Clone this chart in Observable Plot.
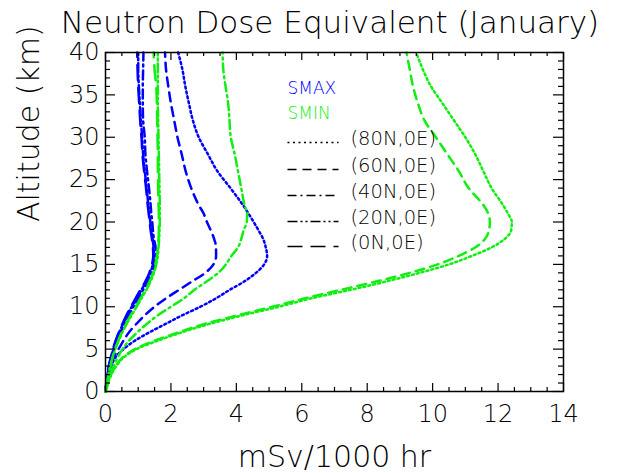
<!DOCTYPE html>
<html>
<head>
<meta charset="utf-8">
<script src="https://cdn.jsdelivr.net/npm/d3@7"></script>
<script src="https://cdn.jsdelivr.net/npm/@observablehq/plot@0.6"></script>
<style>
  html, body { margin: 0; padding: 0; background: #fff; }
  #wrap { position: relative; width: 624px; height: 473px; font-family: "DejaVu Sans", sans-serif; }
  #title { position: absolute; z-index: 2; left: 0; top: 0; width: 660px; height: 42px; line-height: 44px; text-align: center; font-size: 31px; font-weight: 200; color: #000; }
  #chart { position: absolute; z-index: 1; left: 0; top: 20px; }
</style>
</head>
<body>
<div id="wrap">
  <div id="title">Neutron Dose Equivalent (January)</div>
  <div id="chart"></div>
</div>
<script>
// ---------- data ----------
const altitudes = [0,1,2,3,4,5,6,7,8,9,10,11,12,13,14,15,16,17,18,19,20,21,22,24,26,28,30,32,34,36,38,40];

const smax80N = [0,0.04,0.1,0.18,0.3,0.55,0.9,1.35,1.85,2.35,2.9,3.38,3.8,4.25,4.6,4.85,4.94,4.9,4.82,4.68,4.53,4.37,4.2,3.82,3.42,3.13,2.85,2.67,2.55,2.44,2.35,2.22];
const smax60N = [0,0.03,0.08,0.15,0.25,0.4,0.55,0.72,0.95,1.2,1.5,1.85,2.25,2.65,3.05,3.3,3.38,3.38,3.32,3.22,3.1,3.0,2.85,2.62,2.45,2.33,2.2,2.1,2.0,1.92,1.85,1.82];
const smax40N = [0,0.03,0.07,0.12,0.19,0.27,0.36,0.47,0.6,0.72,0.85,1.0,1.15,1.3,1.42,1.5,1.53,1.53,1.48,1.45,1.43,1.4,1.38,1.33,1.27,1.22,1.2,1.15,1.14,1.14,1.15,1.16];
const smax20N = [0,0.03,0.06,0.11,0.17,0.24,0.32,0.42,0.54,0.66,0.8,0.95,1.1,1.25,1.37,1.45,1.48,1.47,1.44,1.4,1.37,1.34,1.31,1.26,1.2,1.15,1.12,1.08,1.05,1.02,1.0,1.0];
const smax0N  = [0,0.03,0.06,0.1,0.16,0.23,0.31,0.41,0.52,0.64,0.78,0.92,1.07,1.22,1.34,1.42,1.46,1.45,1.42,1.38,1.35,1.32,1.29,1.24,1.18,1.13,1.1,1.06,1.03,1.0,0.98,0.97];

const smin80N = [0,0.08,0.18,0.33,0.55,0.95,1.6,2.35,3.2,4.2,5.3,6.3,7.5,8.6,9.6,10.5,11.2,11.8,12.2,12.4,12.42,12.3,12.15,11.8,11.55,11.3,11.0,10.65,10.3,9.95,9.7,9.5];
const smin60N = [0,0.08,0.17,0.31,0.52,0.9,1.5,2.25,3.05,4.05,5.1,6.1,7.2,8.3,9.3,10.15,10.8,11.3,11.6,11.72,11.75,11.7,11.55,11.1,10.8,10.45,10.1,9.75,9.55,9.4,9.3,9.2];
const smin40N = [0,0.06,0.14,0.25,0.37,0.52,0.72,0.98,1.27,1.6,2.0,2.4,2.72,3.1,3.45,3.68,3.85,4.05,4.15,4.22,4.32,4.33,4.25,4.15,4.05,3.95,3.83,3.79,3.75,3.67,3.6,3.58];
const smin20N = [0,0.04,0.09,0.15,0.22,0.3,0.4,0.52,0.65,0.8,0.95,1.1,1.25,1.38,1.48,1.55,1.6,1.62,1.64,1.65,1.66,1.66,1.66,1.65,1.64,1.63,1.62,1.61,1.6,1.6,1.6,1.6];
const smin0N  = [0,0.04,0.09,0.15,0.21,0.29,0.39,0.5,0.63,0.77,0.92,1.07,1.22,1.35,1.45,1.52,1.57,1.6,1.62,1.63,1.63,1.63,1.62,1.61,1.6,1.6,1.59,1.58,1.57,1.55,1.5,1.47];

const locations = ["(80N,0E)", "(60N,0E)", "(40N,0E)", "(20N,0E)", "(0N,0E)"];
const solarLabels = ["SMAX", "SMIN"];
const xTicks = [0, 2, 4, 6, 8, 10, 12, 14];
const yTicks = [0, 5, 10, 15, 20, 25, 30, 35, 40];

// ---------- styles / layout ----------
const TOP = 20;                       // svg offset on the page
const W = 624, H = 453, ML = 105, MR = 61, MT = 32, MB = 82;
const XMAX = 14, YMAX = 40;
const BLUE = "#0000ff", GREEN = "#11ee11";
const dashes = ["2,3", "9,6", "9,4,2,4", "9,3,2,3,2,3", "15,8"];
const legendDashes = ["2,3.5", "9,6", "9,4,2,4", "10,3,2,3,2,3", "15,8"];

const fw = W - ML - MR, fh = H - MT - MB;
const pxX = px => (px - ML) / fw * XMAX;                 // page px -> data x
const pxY = py => (MT + fh - (py - TOP)) / fh * YMAX;    // page px -> data y
const lenX = px => px / fw * XMAX;
const lenY = px => px / fh * YMAX;

const seriesSMAX = [smax80N, smax60N, smax40N, smax20N, smax0N];
const seriesSMIN = [smin80N, smin60N, smin40N, smin20N, smin0N];

const lineMarks = [];
[[seriesSMAX, BLUE], [seriesSMIN, GREEN]].forEach(([group, color]) => {
  group.forEach((vals, i) => {
    const rows = altitudes.map((a, j) => ({alt: a, dose: vals[j]}));
    lineMarks.push(Plot.line(rows, {x: "dose", y: "alt", stroke: color, strokeWidth: 2.5,
      strokeDasharray: dashes[i], curve: "monotone-y"}));
  });
});

// ticks
const minorX = d3.range(0, XMAX + 0.001, 0.5);
const minorY = d3.range(0, YMAX + 0.001, 1);
const tMajX = lenY(8), tMinX = lenY(4);
const tMajY = lenX(10), tMinY = lenX(5);
const tickMarks = [
  Plot.ruleX(minorX, {x: d => d, y1: 0, y2: d => d % 2 === 0 ? tMajX : tMinX, stroke: "black", strokeWidth: 1.2}),
  Plot.ruleX(minorX, {x: d => d, y1: YMAX, y2: d => YMAX - (d % 2 === 0 ? tMajX : tMinX), stroke: "black", strokeWidth: 1.2}),
  Plot.ruleY(minorY, {y: d => d, x1: 0, x2: d => d % 5 === 0 ? tMajY : tMinY, stroke: "black", strokeWidth: 1.2}),
  Plot.ruleY(minorY, {y: d => d, x1: XMAX, x2: d => XMAX - (d % 5 === 0 ? tMajY : tMinY), stroke: "black", strokeWidth: 1.2})
];

// legend (layout in page pixels)
const legX0 = 287, legX1 = 338, legTextX = 350;
const rowY = [138, 165, 191, 217, 242];
const legendMarks = [
  Plot.text(solarLabels, {x: pxX(legX0), y: (d, i) => pxY([88, 113][i]), text: d => d,
    textAnchor: "start", fill: (d, i) => [BLUE, GREEN][i], fontSize: 17, fontWeight: 200}),
  Plot.text(locations, {x: pxX(legTextX), y: (d, i) => pxY(rowY[i]), text: d => d,
    textAnchor: "start", fill: "black", fontSize: 19.5, fontWeight: 200}),
  ...locations.map((d, i) => Plot.link([d], {x1: pxX(legX0), x2: pxX(legX1), y1: pxY(rowY[i] + 4), y2: pxY(rowY[i] + 4),
    stroke: "black", strokeWidth: 1.3, strokeDasharray: legendDashes[i]}))
];

const chart = Plot.plot({
  width: W, height: H,
  marginLeft: ML, marginRight: MR, marginTop: MT, marginBottom: MB,
  style: {fontFamily: "'DejaVu Sans', sans-serif", background: "transparent", color: "black"},
  x: {domain: [0, XMAX], axis: null},
  y: {domain: [0, YMAX], axis: null},
  marks: [
    ...lineMarks,
    ...tickMarks,
    Plot.frame({stroke: "black", strokeWidth: 1.5}),
    Plot.axisX({anchor: "bottom", ticks: xTicks, tickSize: 0, tickPadding: 13, fontSize: 24, fontWeight: 200, label: null}),
    Plot.axisY({anchor: "left", ticks: yTicks, tickSize: 0, tickPadding: 6, fontSize: 24, fontWeight: 200, label: null}),
    Plot.text(["mSv/1000 hr"], {frameAnchor: "bottom", dy: 75, text: d => d, fontSize: 30, fontWeight: 200}),
    Plot.text(["Altitude (km)"], {frameAnchor: "left", dx: -76, rotate: -90, text: d => d, fontSize: 30, fontWeight: 200}),
    ...legendMarks
  ]
});
document.getElementById("chart").appendChild(chart);
</script>
</body>
</html>
